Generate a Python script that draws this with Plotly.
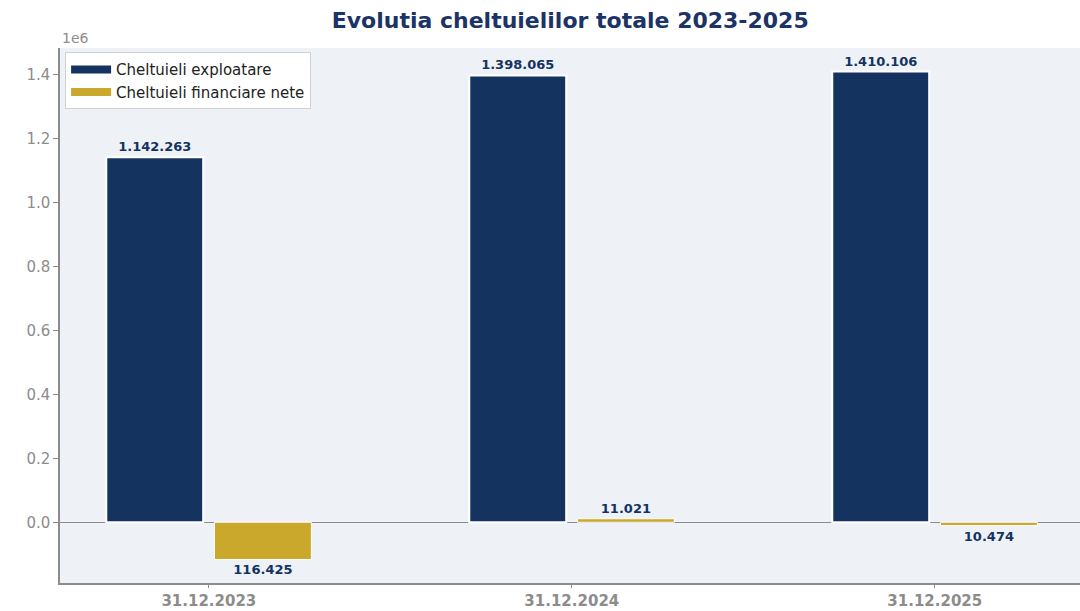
import plotly.graph_objects as go

# Data
dates = ["31.12.2023", "31.12.2024", "31.12.2025"]
cheltuieli_exploatare = [1142263, 1398065, 1410106]
cheltuieli_financiare_nete = [-116425, 11021, -10474]
y_ticks = [0, 200000, 400000, 600000, 800000, 1000000, 1200000, 1400000]
y_tick_labels = ["0.0", "0.2", "0.4", "0.6", "0.8", "1.0", "1.2", "1.4"]
series_names = ["Cheltuieli exploatare", "Cheltuieli financiare nete"]

NAVY = "#15335f"
GOLD = "#c9a82c"
GRAY = "#8c8c8c"
FONT = "DejaVu Sans"

bar_w = 0.267
offset = 0.149
pos = list(range(len(dates)))


def fmt(v):
    return f"{abs(v):,}".replace(",", ".")


fig = go.Figure()
for vals, shift, color, edge in [
    (cheltuieli_exploatare, -offset, NAVY, 2),
    (cheltuieli_financiare_nete, offset, GOLD, 1),
]:
    fig.add_trace(go.Bar(
        x=[p + shift for p in pos],
        y=vals,
        width=bar_w,
        showlegend=False,
        marker=dict(color=color, line=dict(color="white", width=edge)),
        text=[fmt(v) for v in vals],
        textposition="outside",
        textfont=dict(family=FONT, size=13, color=NAVY, weight="bold"),
        cliponaxis=False,
    ))

# Legend entries drawn as wide patches (matplotlib-style)
for name, color in zip(series_names, [NAVY, GOLD]):
    fig.add_trace(go.Scatter(
        x=[None], y=[None], mode="lines", name=name,
        line=dict(color=color, width=8),
    ))

fig.update_layout(
    width=1080,
    height=611,
    margin=dict(l=60, r=0, t=48, b=28),
    paper_bgcolor="white",
    plot_bgcolor="#eef2f7",
    barmode="overlay",
    font=dict(family=FONT, color=GRAY),
    title=dict(
        text="Evolutia cheltuielilor totale 2023-2025",
        x=0.528, xanchor="center", y=0.967, yanchor="middle",
        font=dict(family=FONT, size=22, color="#1b3366", weight="bold"),
    ),
    legend=dict(
        x=0.005, y=0.992, xanchor="left", yanchor="top",
        bgcolor="white", bordercolor="#d0d0d0", borderwidth=1,
        font=dict(family=FONT, size=15, color="#222222"),
        itemwidth=40,
        tracegroupgap=0,
    ),
    showlegend=True,
    xaxis=dict(
        range=[-0.41, 2.40],
        tickmode="array", tickvals=pos, ticktext=dates,
        tickfont=dict(family=FONT, size=15, color=GRAY, weight="bold"),
        ticks="outside", ticklen=3, tickcolor=GRAY,
        showgrid=False, zeroline=False, automargin=False,
        showline=True, linecolor=GRAY, linewidth=1.5,
    ),
    yaxis=dict(
        range=[-190000, 1484000],
        tickmode="array", tickvals=y_ticks, ticktext=y_tick_labels,
        tickfont=dict(family=FONT, size=15, color=GRAY),
        ticks="outside", ticklen=5, tickcolor=GRAY,
        showgrid=False, automargin=False,
        zeroline=True, zerolinecolor=GRAY, zerolinewidth=1.2,
        showline=True, linecolor=GRAY, linewidth=1.5,
    ),
    annotations=[dict(
        text="1e6", xref="paper", yref="paper", x=0.0, y=1.0,
        xanchor="left", yanchor="bottom", showarrow=False,
        font=dict(family=FONT, size=14, color=GRAY),
    )],
)

fig.write_html("out.html")
